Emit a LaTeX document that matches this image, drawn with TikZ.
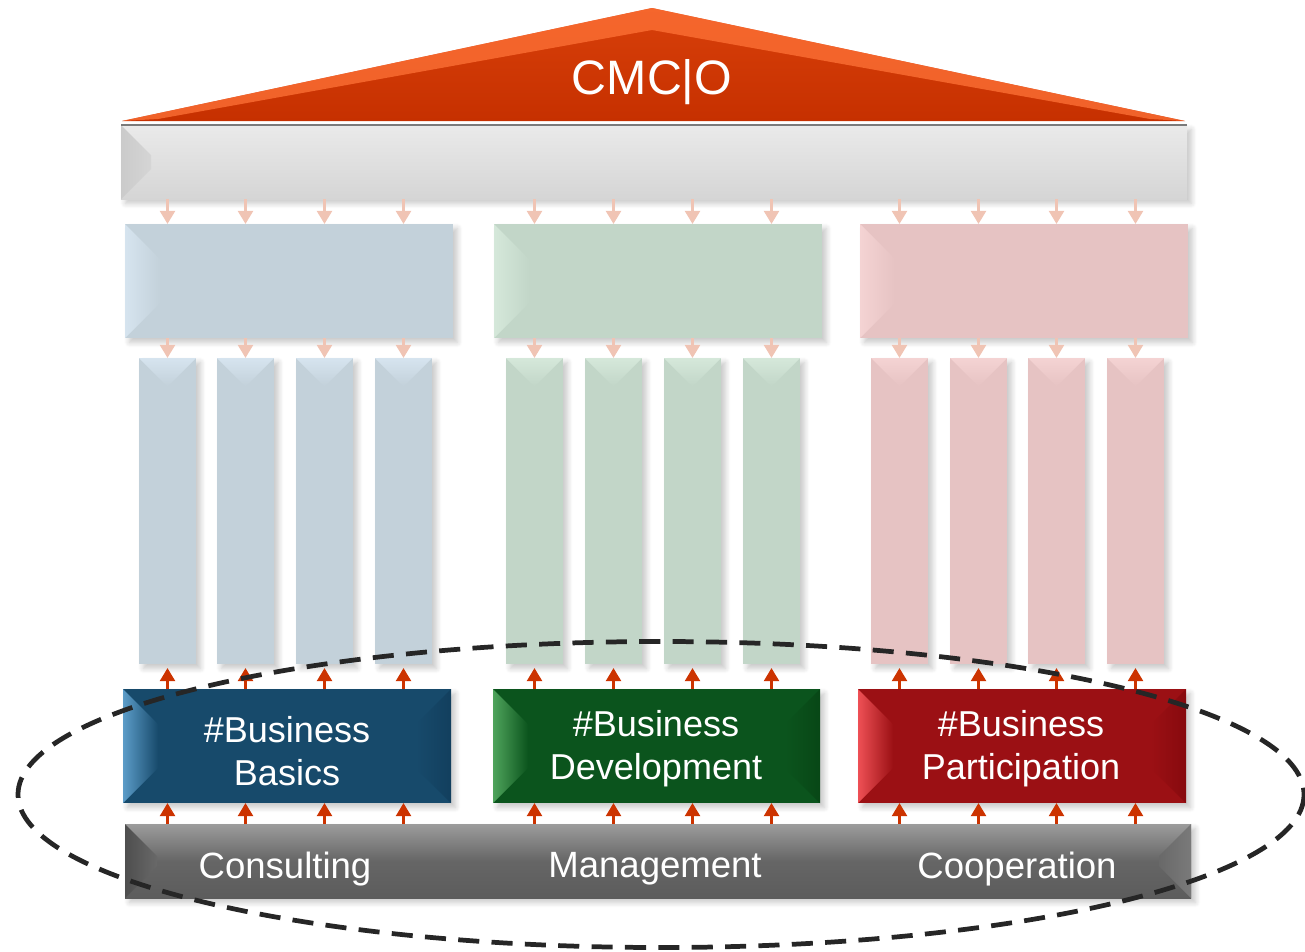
\documentclass[tikz,border=0pt]{standalone}
\usepackage{fontspec}
\setmainfont{Liberation Sans}
\usetikzlibrary{arrows.meta,calc,fit,shadows.blur}

\definecolor{roofTop}{HTML}{D8400A}
\definecolor{roofBot}{HTML}{C63000}
\definecolor{roofHi}{HTML}{FF7338}
\definecolor{beamTop}{HTML}{EAEAEA}
\definecolor{beamBot}{HTML}{D5D5D5}
\definecolor{beamLine}{HTML}{7A7A7A}
\definecolor{bluelt}{HTML}{C3D1DA}
\definecolor{blueltH}{HTML}{D6E4EF}
\definecolor{greenlt}{HTML}{C2D6C8}
\definecolor{greenltH}{HTML}{D5E8DA}
\definecolor{redlt}{HTML}{E6C3C3}
\definecolor{redltH}{HTML}{F4D3D3}
\definecolor{blueDk}{HTML}{174A6B}
\definecolor{blueDkH}{HTML}{5C9CC8}
\definecolor{blueDkS}{HTML}{123F5E}
\definecolor{greenDk}{HTML}{0B541D}
\definecolor{greenDkH}{HTML}{4FA45C}
\definecolor{greenDkS}{HTML}{084716}
\definecolor{redDk}{HTML}{9B1014}
\definecolor{redDkH}{HTML}{EE5055}
\definecolor{redDkS}{HTML}{870A0E}
\definecolor{barTop}{HTML}{9C9C9C}
\definecolor{barBot}{HTML}{5C5C5C}
\definecolor{barS}{HTML}{4E4E4E}
\definecolor{barH}{HTML}{7A7A7A}
\definecolor{arrred}{HTML}{CC3300}
\definecolor{arrpink}{HTML}{F0C4B4}

\tikzset{
  blk/.style={inner sep=0pt, outer sep=0pt, draw=none},
  shd/.style={blur shadow={shadow blur steps=6, shadow xshift=2.5pt, shadow yshift=-2.5pt, shadow opacity=22, shadow blur radius=3pt}},
  uparr/.style={draw=arrred, line width=1.6pt, -{Triangle[width=8.5pt,length=7.5pt]}},
  dnarr/.style={draw=arrpink, line width=1.6pt, -{Triangle[width=8.5pt,length=7.5pt]}},
  lbl/.style={text=white, font=\fontsize{20.5}{24.5}\selectfont, align=center},
  barlbl/.style={text=white, font=\fontsize{20.8}{24}\selectfont},
  ringline/.style={draw=black!85, line width=2.7pt, dash pattern=on 12pt off 7pt},
}

\newcommand\lbev[4]{%
  \shade[left color=#3, right color=#4] (#1.north west) -- ($(#1.north west)+(#2,#2)$) -- ($(#1.south west)+(#2,-#2)$) -- (#1.south west) -- cycle;}
\newcommand\rbev[4]{%
  \shade[left color=#4, right color=#3] (#1.north east) -- ($(#1.north east)+(-#2,#2)$) -- ($(#1.south east)+(-#2,-#2)$) -- (#1.south east) -- cycle;}
\newcommand\tbev[4]{%
  \shade[top color=#3, bottom color=#4] (#1.north west) -- (#1.north east) -- ($(#1.north east)+(-#2,#2)$) -- ($(#1.north west)+(#2,#2)$) -- cycle;}

\begin{document}
\begin{tikzpicture}[x=0.02cm,y=-0.02cm]
\useasboundingbox (0,0) rectangle (1305,951);

% roof
\shade[top color=roofTop, bottom color=roofBot] (122,121) -- (652,8) -- (1185,121) -- cycle;
\fill[roofHi, opacity=0.75] (122,121) -- (652,8) -- (1185,121) -- (1150,119) -- (652,30) -- (158,119) -- cycle;
\node[text=white, font=\fontsize{27.5}{30}\selectfont] (title) at (652,82) {CMC|O};

% beam
\node[blk, fit={(121,125) (1187,199)}, top color=beamTop, bottom color=beamBot, shd] (beam) {};
\lbev{beam}{30}{beamBot!95!black}{beamBot}
\draw[beamLine, line width=1.5pt] (beam.north west) -- (beam.north east);

% upper boxes
\node[blk, fit={(125,224) (453,338)}, fill=bluelt, shd] (bu) {};
\lbev{bu}{35}{blueltH}{bluelt}
\node[blk, fit={(494,224) (822,338)}, fill=greenlt, shd] (gu) {};
\lbev{gu}{35}{greenltH}{greenlt}
\node[blk, fit={(860,224) (1188,338)}, fill=redlt, shd] (ru) {};
\lbev{ru}{35}{redltH}{redlt}

% columns
\foreach \i/\xa in {1/139,2/217,3/296,4/375} {
  \node[blk, fit={(\xa,358) (\xa+57,664)}, fill=bluelt, shd] (bc\i) {};
  \tbev{bc\i}{28}{blueltH}{bluelt}
}
\foreach \i/\xa in {1/506,2/585,3/664,4/743} {
  \node[blk, fit={(\xa,358) (\xa+57,664)}, fill=greenlt, shd] (gc\i) {};
  \tbev{gc\i}{28}{greenltH}{greenlt}
}
\foreach \i/\xa in {1/871,2/950,3/1028,4/1107} {
  \node[blk, fit={(\xa,358) (\xa+57,664)}, fill=redlt, shd] (rc\i) {};
  \tbev{rc\i}{28}{redltH}{redlt}
}

% dark boxes
\node[blk, fit={(123,689) (451,803)}, fill=blueDk, shd] (bd) {};
\lbev{bd}{35}{blueDkH}{blueDk}
\rbev{bd}{35}{blueDkS}{blueDk}
\node[lbl] (bdt) at (287,751) {\#Business\\Basics};
\node[blk, fit={(493,689) (820,803)}, fill=greenDk, shd] (gd) {};
\lbev{gd}{35}{greenDkH}{greenDk}
\rbev{gd}{35}{greenDkS}{greenDk}
\node[lbl] (gdt) at (656,749) {\#Business\\Development};
\node[blk, fit={(858,689) (1186,803)}, fill=redDk, shd] (rd) {};
\lbev{rd}{35}{redDkH}{redDk}
\rbev{rd}{35}{redDkS}{redDk}
\node[lbl] (rdt) at (1021,749) {\#Business\\Participation};

% bottom bar
\node[blk, fit={(125,824) (1191,898)}, top color=barTop, bottom color=barBot, middle color=barBot!85!barTop, shd] (bar) {};
\lbev{bar}{32}{barS}{barBot!80!barTop}
\rbev{bar}{32}{barH}{barBot!80!barTop}
\node[barlbl] (t1) at (285,869) {Consulting};
\node[barlbl] (t2) at (655,869) {Management};
\node[barlbl] (t3) at (1017,869) {Cooperation};

% arrows
\foreach \c/\u/\d in {bc/bu/bd, gc/gu/gd, rc/ru/rd} {
  \foreach \i in {1,2,3,4} {
    \draw[dnarr] (beam.south -| \c\i.center) -- (\u.north -| \c\i.center);
    \draw[dnarr] (\u.south -| \c\i.center) -- (\c\i.north);
    \draw[uparr] (\d.north -| \c\i.center) -- ($(\c\i.south)+(0,4)$);
    \draw[uparr] (bar.north -| \c\i.center) -- (\d.south -| \c\i.center);
  }
}

% dashed ring
\draw[ringline] (661,794.5) ellipse [x radius=643, y radius=153];
\end{tikzpicture}
\end{document}
